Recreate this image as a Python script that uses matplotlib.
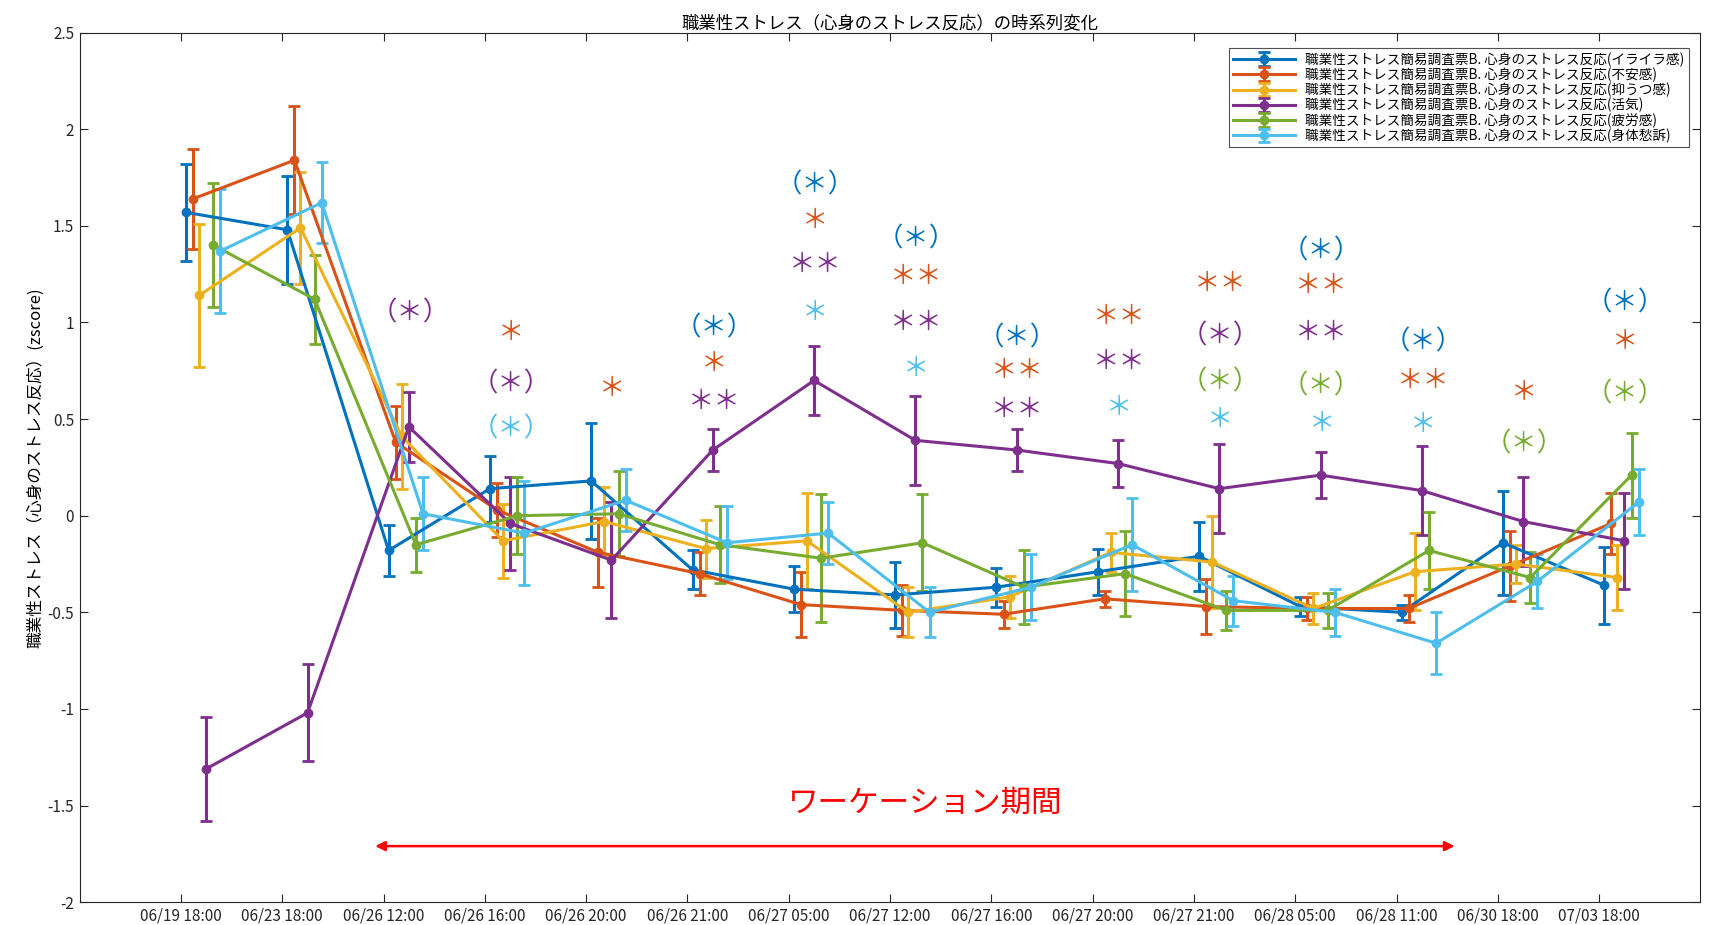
import numpy as np
import matplotlib
matplotlib.use("Agg")
import matplotlib.pyplot as plt

plt.rcParams['font.family'] = ['Noto Sans CJK JP', 'DejaVu Sans']

# tick labels (time points)
time_labels = ['06/19 18:00', '06/23 18:00', '06/26 12:00', '06/26 16:00', '06/26 20:00',
               '06/26 21:00', '06/27 05:00', '06/27 12:00', '06/27 16:00', '06/27 20:00',
               '06/27 21:00', '06/28 05:00', '06/28 11:00', '06/30 18:00', '07/03 18:00']

series_names = ['職業性ストレス簡易調査票B. 心身のストレス反応(イライラ感)',
                '職業性ストレス簡易調査票B. 心身のストレス反応(不安感)',
                '職業性ストレス簡易調査票B. 心身のストレス反応(抑うつ感)',
                '職業性ストレス簡易調査票B. 心身のストレス反応(活気)',
                '職業性ストレス簡易調査票B. 心身のストレス反応(疲労感)',
                '職業性ストレス簡易調査票B. 心身のストレス反応(身体愁訴)']

# mean z-scores
irritation = [1.57, 1.48, -0.18, 0.14, 0.18, -0.28, -0.38, -0.41, -0.37, -0.29, -0.21, -0.47, -0.50, -0.14, -0.36]
anxiety    = [1.64, 1.84, 0.38, 0.03, -0.19, -0.30, -0.46, -0.49, -0.51, -0.43, -0.47, -0.48, -0.48, -0.26, -0.04]
depression = [1.14, 1.49, 0.41, -0.13, -0.03, -0.17, -0.13, -0.50, -0.42, -0.19, -0.24, -0.48, -0.29, -0.25, -0.32]
vigor      = [-1.31, -1.02, 0.46, -0.04, -0.23, 0.34, 0.70, 0.39, 0.34, 0.27, 0.14, 0.21, 0.13, -0.03, -0.13]
fatigue    = [1.40, 1.12, -0.15, 0.00, 0.01, -0.15, -0.22, -0.14, -0.37, -0.30, -0.49, -0.49, -0.18, -0.32, 0.21]
somatic    = [1.37, 1.62, 0.01, -0.09, 0.08, -0.14, -0.09, -0.50, -0.37, -0.15, -0.44, -0.50, -0.66, -0.34, 0.07]

# standard errors
irritation_err = [0.25, 0.28, 0.13, 0.17, 0.30, 0.10, 0.12, 0.17, 0.10, 0.12, 0.18, 0.05, 0.04, 0.27, 0.20]
anxiety_err    = [0.26, 0.28, 0.19, 0.14, 0.18, 0.11, 0.17, 0.13, 0.07, 0.04, 0.14, 0.06, 0.07, 0.18, 0.16]
depression_err = [0.37, 0.29, 0.27, 0.19, 0.18, 0.15, 0.25, 0.13, 0.11, 0.10, 0.24, 0.08, 0.20, 0.10, 0.17]
vigor_err      = [0.27, 0.25, 0.18, 0.24, 0.30, 0.11, 0.18, 0.23, 0.11, 0.12, 0.23, 0.12, 0.23, 0.23, 0.25]
fatigue_err    = [0.32, 0.23, 0.14, 0.20, 0.22, 0.20, 0.33, 0.25, 0.19, 0.22, 0.10, 0.09, 0.20, 0.13, 0.22]
somatic_err    = [0.32, 0.21, 0.19, 0.27, 0.16, 0.19, 0.16, 0.13, 0.17, 0.24, 0.13, 0.12, 0.16, 0.14, 0.17]

means = [irritation, anxiety, depression, vigor, fatigue, somatic]
errs = [irritation_err, anxiety_err, depression_err, vigor_err, fatigue_err, somatic_err]

colors = ['#0072BD', '#D95319', '#EDB120', '#7E2F8E', '#77AC30', '#4DBEEE']
offsets = [0.05, 0.12, 0.18, 0.25, 0.32, 0.39]

# significance marks: (time index, text, series index, y)
marks = [
    (3, '(*)', 3, 1.05),
    (4, '*', 1, 0.95), (4, '(*)', 3, 0.68), (4, '(*)', 5, 0.45),
    (5, '*', 1, 0.66),
    (6, '(*)', 0, 0.97), (6, '*', 1, 0.79), (6, '**', 3, 0.59),
    (7, '(*)', 0, 1.71), (7, '*', 1, 1.53), (7, '**', 3, 1.30), (7, '*', 5, 1.05),
    (8, '(*)', 0, 1.43), (8, '**', 1, 1.24), (8, '**', 3, 1.00), (8, '*', 5, 0.76),
    (9, '(*)', 0, 0.92), (9, '**', 1, 0.75), (9, '**', 3, 0.55),
    (10, '**', 1, 1.03), (10, '**', 3, 0.80), (10, '*', 5, 0.56),
    (11, '**', 1, 1.20), (11, '(*)', 3, 0.93), (11, '(*)', 4, 0.69), (11, '*', 5, 0.50),
    (12, '(*)', 0, 1.37), (12, '**', 1, 1.19), (12, '**', 3, 0.95), (12, '(*)', 4, 0.67), (12, '*', 5, 0.48),
    (13, '(*)', 0, 0.90), (13, '**', 1, 0.70), (13, '*', 5, 0.47),
    (14, '*', 1, 0.64), (14, '(*)', 4, 0.37),
    (15, '(*)', 0, 1.10), (15, '*', 1, 0.90), (15, '(*)', 4, 0.63),
]

period_start, period_end = 2.89, 13.60

fig = plt.figure(figsize=(17.09, 9.25), dpi=100)
ax = fig.add_axes([0.0466, 0.0247, 0.9484, 0.94])

ticks = np.arange(1, len(time_labels) + 1)
for i in range(6):
    x = ticks + offsets[i]
    ax.errorbar(x, means[i], yerr=errs[i], color=colors[i], lw=2.2, marker='o', ms=6,
                capsize=4, capthick=2, elinewidth=2.2, label=series_names[i])

full = {'(*)': '（＊）', '*': '＊', '**': '＊＊'}
for t, s, ci, y in marks:
    ax.text(t + 0.26, y, full[s], color=colors[ci], fontsize=19, ha='center', va='center')

ax.annotate('', xy=(period_start, -1.71), xytext=(period_end, -1.71),
            arrowprops=dict(arrowstyle='<|-|>', color='red', lw=1.8, mutation_scale=14))
ax.text((period_start + period_end) / 2 + 0.1, -1.49, 'ワーケーション期間', color='red',
        fontsize=22, ha='center', va='center')

ax.set_xlim(0, 16)
ax.set_ylim(-2, 2.5)
ax.set_xticks(ticks)
ax.set_xticklabels(time_labels, fontsize=11)
yt = np.arange(-2, 2.51, 0.5)
ax.set_yticks(yt)
ax.set_yticklabels(['%g' % v for v in yt], fontsize=11)
ax.tick_params(direction='in', top=True, right=True, length=6, width=0.8, pad=4, colors='#262626')
for sp in ax.spines.values():
    sp.set_color('#262626')
    sp.set_linewidth(0.8)

ax.set_title('職業性ストレス（心身のストレス反応）の時系列変化', fontsize=12.5, pad=3)
ax.set_ylabel('職業性ストレス（心身のストレス反応）(zscore)', fontsize=12, labelpad=2)

leg = ax.legend(loc='upper right', fontsize=9.8, frameon=True, fancybox=False,
                edgecolor='#262626', borderpad=0.3, labelspacing=0.05, handlelength=4.5,
                bbox_to_anchor=(0.997, 0.99))
leg.get_frame().set_linewidth(0.8)

fig.savefig('out.png', dpi=100)
